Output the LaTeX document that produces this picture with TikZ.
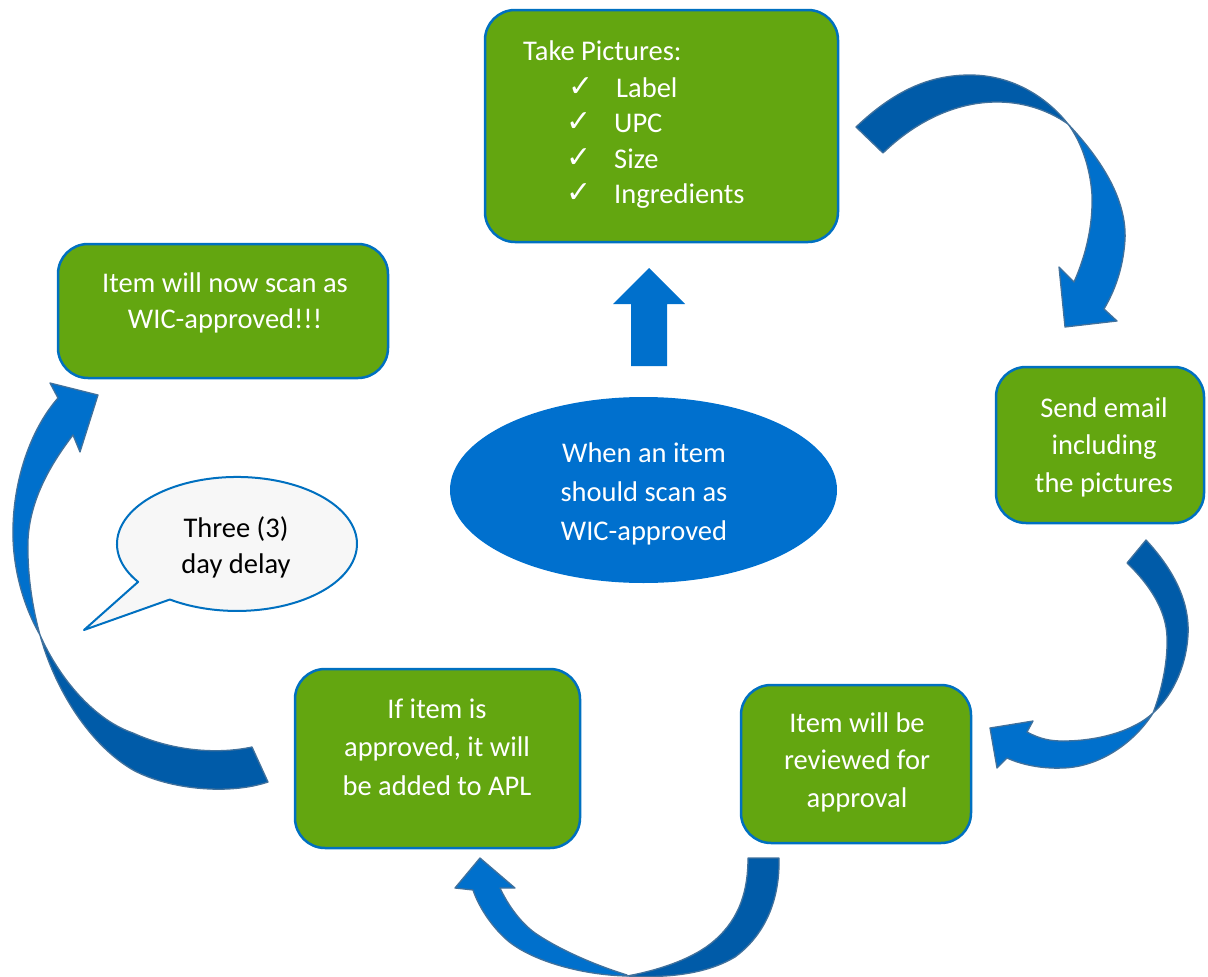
\documentclass[tikz,border=0pt]{standalone}
\usepackage{fontspec}
\setmainfont{Carlito}
\newfontfamily\symfont{DejaVu Sans}
\usetikzlibrary{shapes.geometric}
\definecolor{boxgreen}{RGB}{99,166,16}
\definecolor{boxblue}{RGB}{0,112,192}
\definecolor{arrdark}{RGB}{0,91,168}
\definecolor{arrlight}{RGB}{0,112,204}
\definecolor{arredge}{RGB}{65,113,156}
\definecolor{ellblue}{RGB}{0,112,206}
\definecolor{calloutfill}{RGB}{247,247,247}
\begin{document}
\begin{tikzpicture}[x=1pt,y=-1pt,
  box/.style={draw=boxblue,line width=2.5pt,fill=boxgreen,rounded corners=30pt,inner sep=0pt},
  ctext/.style={text=white,align=center,inner sep=0pt,anchor=north,font=\fontsize{28.5}{37.5}\selectfont},
  ltext/.style={text=white,inner sep=0pt,anchor=base west,font=\fontsize{28.5}{36}\selectfont},
  chk/.style={text=white,inner sep=0pt,anchor=base west,font=\symfont\fontsize{30}{32}\selectfont},
  darkband/.style={fill=arrdark,draw=arredge,line width=1.3pt,line join=round},
  lightband/.style={fill=arrlight,draw=arredge,line width=1.3pt,line join=round},
  callout/.style={fill=calloutfill,draw=boxblue,line width=2pt,line join=round}]
\useasboundingbox (0,0) rectangle (1208,977);

% ---------- boxes ----------
\node[box,minimum width=353pt,minimum height=232pt] (pics) at (661.5,126) {};
\node[box,minimum width=330pt,minimum height=134pt] (now) at (223,311) {};
\node[box,minimum width=208pt,minimum height=156pt] (email) at (1100,445) {};
\node[box,minimum width=230pt,minimum height=158pt] (review) at (856,764) {};
\node[box,minimum width=285pt,minimum height=179pt] (apl) at (437.5,758.5) {};
\node[ellipse,fill=ellblue,minimum width=387pt,minimum height=186pt,inner sep=0pt] (start) at (643.5,490) {};

% ---------- texts ----------
\node[ltext] (pics-title) at (523,60) {Take Pictures:};
\node[chk] (c1) at (568,96) {✓};
\node[ltext] (t1) at (616,97) {Label};
\node[chk] (c2) at (566,131) {✓};
\node[ltext] (t2) at (614,132) {UPC};
\node[chk] (c3) at (566,167) {✓};
\node[ltext] (t3) at (614,168) {Size};
\node[chk] (c4) at (566,202) {✓};
\node[ltext] (t4) at (614,203) {Ingredients};

\node[ctext,font=\fontsize{28.5}{36.5}\selectfont] (now-t) at (225,266.5) {\strut Item will now scan as\\\strut WIC-approved!!!};
\node[ctext] (email-t) at (1104,390.75) {\strut Send email\\\strut including\\\strut the pictures};
\node[ctext,font=\fontsize{28.5}{38.5}\selectfont] (apl-t) at (437,691) {\strut If item is\\\strut approved, it will\\\strut be added to APL};
\node[ctext] (review-t) at (857,705.75) {\strut Item will be\\\strut reviewed for\\\strut approval};
\node[ctext,font=\fontsize{28.5}{39}\selectfont] (start-t) at (644,434.7) {\strut When an item\\\strut should scan as\\\strut WIC-approved};

% ---------- callout ----------
\draw[callout] (138.1,581.9) arc[start angle=145.5,end angle=484,x radius=120,y radius=67] -- (84,630) -- cycle;
\node[ctext,text=black,font=\fontsize{28.5}{36}\selectfont] (delay) at (236,511.8) {\strut Three (3)\\\strut day delay};

% ---------- straight arrow: start -> pics ----------
\fill[arrlight] (631,366) -- (631,304) -- (613,304) -- (649,268) -- (685,304) -- (667,304) -- (667,366) -- cycle;

% ---------- curved arrow: pics -> email ----------
\draw[darkband] (856,127) .. controls (895,90) and (930,75) .. (970,75)
  .. controls (1010,75) and (1045,95) .. (1068,124)
  .. controls (1045,108) and (1020,102) .. (997,102)
  .. controls (955,102) and (915,122) .. (883,153) -- cycle;
\draw[lightband] (1068,124) .. controls (1102,160) and (1127,200) .. (1125,240)
  .. controls (1123,270) and (1114,292) .. (1104,309)
  -- (1117,321) -- (1065,327) -- (1059,267) -- (1074,282)
  .. controls (1086,255) and (1093,225) .. (1092,195)
  .. controls (1090,165) and (1080,140) .. (1068,124) -- cycle;

% ---------- curved arrow: email -> review ----------
\draw[darkband] (1146,540) .. controls (1172,568) and (1190,600) .. (1188,635)
  .. controls (1186,670) and (1170,698) .. (1153,713)
  .. controls (1160,695) and (1168,665) .. (1167,637)
  .. controls (1166,610) and (1150,585) .. (1127,563) -- cycle;
\draw[lightband] (1153,713) .. controls (1135,742) and (1100,767) .. (1063,768)
  .. controls (1040,769) and (1020,764) .. (1007,758)
  -- (997,768) -- (990,728) -- (1033,721) -- (1027,732)
  .. controls (1040,739) and (1050,741) .. (1063,741)
  .. controls (1100,741) and (1135,730) .. (1153,713) -- cycle;

% ---------- curved arrow: review -> apl ----------
\draw[darkband] (779,858) .. controls (780,900) and (765,935) .. (735,957)
  .. controls (705,975) and (665,978) .. (627,976)
  .. controls (660,970) and (695,958) .. (715,940)
  .. controls (740,918) and (748,890) .. (748,858) -- cycle;
\draw[lightband] (627,976) .. controls (580,975) and (530,960) .. (507,940)
  .. controls (490,925) and (478,905) .. (473,890)
  -- (455,888) -- (480,858) -- (515,888) -- (500,888)
  .. controls (508,905) and (520,922) .. (535,933)
  .. controls (560,950) and (595,965) .. (627,975) -- cycle;

% ---------- curved arrow: apl -> now ----------
\draw[darkband] (268,782) .. controls (230,795) and (170,790) .. (133,770)
  .. controls (90,745) and (55,690) .. (40,635)
  .. controls (60,680) and (95,720) .. (133,733)
  .. controls (170,750) and (215,755) .. (252,747) -- cycle;
\draw[lightband] (40,635) .. controls (20,600) and (12,560) .. (13,527)
  .. controls (14,480) and (30,430) .. (58,398)
  -- (50,383) -- (98,395) -- (80,452) -- (73,435)
  .. controls (50,465) and (30,500) .. (28,540)
  .. controls (27,575) and (33,610) .. (40,635) -- cycle;
\end{tikzpicture}
\end{document}
